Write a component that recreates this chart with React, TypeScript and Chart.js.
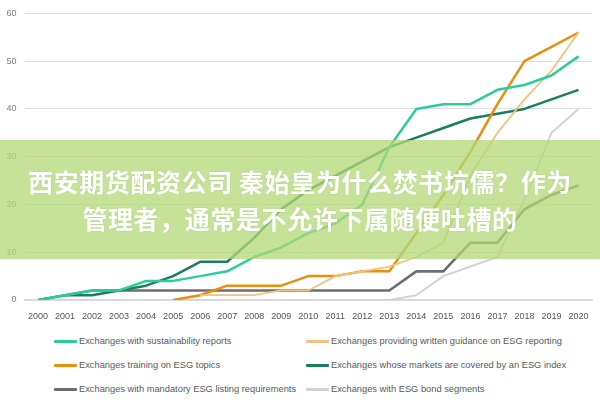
import React, { useEffect, useRef } from "react";
import { Chart, registerables } from "chart.js";

Chart.register(...registerables);

const years = [
  "2000", "2001", "2002", "2003", "2004", "2005", "2006", "2007", "2008", "2009", "2010",
  "2011", "2012", "2013", "2014", "2015", "2016", "2017", "2018", "2019", "2020",
];

const sustainabilityReports = [0, 1, 2, 2, 4, 4, 5, 6, 9, 11, 14, 16, 20, 32, 40, 41, 41, 44, 45, 47, 51];
const writtenGuidance = [null, null, null, null, null, null, 1, 1, 1, 2, 2, 5, 6, 7, 9, 12, 26, 35, 42, 48, 56];
const trainingTopics = [null, null, null, null, null, 0, 1, 3, 3, 3, 5, 5, 6, 6, 14, 22, 31, 41, 50, 53, 56];
const esgIndex = [0, 1, 1, 2, 3, 5, 8, 8, 13, 19, 23, 26, 29, 32, 34, 36, 38, 39, 40, 42, 44];
const mandatoryListing = [null, 1, 2, 2, 2, 2, 2, 2, 2, 2, 2, 2, 2, 2, 6, 6, 12, 12, 19, 22, 24];
const bondSegments = [0, 0, 0, 0, 0, 0, 0, 0, 0, 0, 0, 0, 0, 0, 1, 5, 7, 9, 21, 35, 40];

const seriesNames = [
  "Exchanges with sustainability reports",
  "Exchanges providing written guidance on ESG reporting",
  "Exchanges training on ESG topics",
  "Exchanges whose markets are covered by an ESG index",
  "Exchanges with mandatory ESG listing requirements",
  "Exchanges with ESG bond segments",
];
const seriesValues = [
  sustainabilityReports,
  writtenGuidance,
  trainingTopics,
  esgIndex,
  mandatoryListing,
  bondSegments,
];
const seriesColors = ["#2bcb9c", "#f4c27f", "#e8900c", "#1a7d5e", "#6d6d6d", "#d3d3d3"];
const seriesWidths = [2.5, 1.8, 2.5, 2.5, 2.6, 2];

const titleLines = ["西安期货配资公司 秦始皇为什么焚书坑儒？作为", "管理者，通常是不允许下属随便吐槽的"];

export default function App() {
  const canvasRef = useRef<HTMLCanvasElement>(null);

  useEffect(() => {
    if (!canvasRef.current) return;
    const chart = new Chart(canvasRef.current, {
      type: "line",
      data: {
        labels: years,
        datasets: seriesNames.map((name, i) => ({
          label: name,
          data: seriesValues[i],
          borderColor: seriesColors[i],
          backgroundColor: seriesColors[i],
          borderWidth: seriesWidths[i],
          pointRadius: 0,
          tension: 0,
          fill: false,
          spanGaps: false,
          borderJoinStyle: "round" as const,
        })),
      },
      options: {
        animation: false,
        responsive: false,
        layout: { padding: { top: 12, right: 8, left: 0, bottom: 0 } },
        plugins: { legend: { display: false }, tooltip: { enabled: false } },
        scales: {
          x: {
            offset: true,
            grid: { display: false },
            border: { display: true, color: "#d6d6d6", width: 1.5 },
            ticks: {
              color: "#555555",
              font: { size: 9, family: "'Liberation Sans', Arial, sans-serif" },
              padding: 3,
              maxRotation: 0,
              autoSkip: false,
            },
            afterFit: (s: any) => {
              s.height = 25;
            },
          },
          y: {
            min: 0,
            max: 60,
            ticks: {
              stepSize: 10,
              color: "#808080",
              font: { size: 9, family: "'Liberation Sans', Arial, sans-serif" },
              padding: 8,
            },
            grid: { color: "#e0e0e0", drawTicks: false, lineWidth: 1 },
            border: { display: false },
            afterFit: (s: any) => {
              s.width = 24.5;
            },
          },
        },
      },
    });
    return () => chart.destroy();
  }, []);

  const legendRows = [0, 1, 2];
  const colLeft = [54, 306];
  const rowY = [341, 365, 389];

  return (
    <div
      style={{
        position: "absolute",
        left: 0,
        top: 0,
        width: 600,
        height: 400,
        background: "#ffffff",
        overflow: "hidden",
      }}
    >
      <canvas ref={canvasRef} width={600} height={325} style={{ position: "absolute", left: 0, top: 0 }} />
      {legendRows.map((r) =>
        [0, 1].map((c) => {
          const i = r * 2 + c;
          return (
            <div
              key={i}
              style={{
                position: "absolute",
                left: colLeft[c],
                top: rowY[r] - 7,
                height: 14,
                display: "flex",
                alignItems: "center",
                whiteSpace: "nowrap",
              }}
            >
              <span
                style={{
                  display: "inline-block",
                  width: 23,
                  height: 3,
                  background: seriesColors[i],
                  marginRight: 2,
                  borderRadius: 1,
                }}
              />
              <span
                style={{
                  fontFamily: "'Liberation Sans', Arial, sans-serif",
                  fontSize: 9.3,
                  color: "#595959",
                }}
              >
                {seriesNames[i]}
              </span>
            </div>
          );
        })
      )}
      <div
        style={{
          position: "absolute",
          left: 0,
          top: 140,
          width: 600,
          height: 119,
          background: "rgba(178, 216, 118, 0.75)",
          display: "flex",
          flexDirection: "column",
          alignItems: "center",
          justifyContent: "center",
          color: "#ffffff",
          fontFamily: "'Noto Sans CJK SC', sans-serif",
          fontWeight: 700,
          fontSize: 25,
          lineHeight: "37px",
          letterSpacing: 0.6,
          textShadow: "0 0 2px rgba(0,0,0,0.08)",
        }}
      >
        {titleLines.map((t, i) => (
          <div key={i} style={{ whiteSpace: "nowrap" }}>
            {t}
          </div>
        ))}
      </div>
    </div>
  );
}
